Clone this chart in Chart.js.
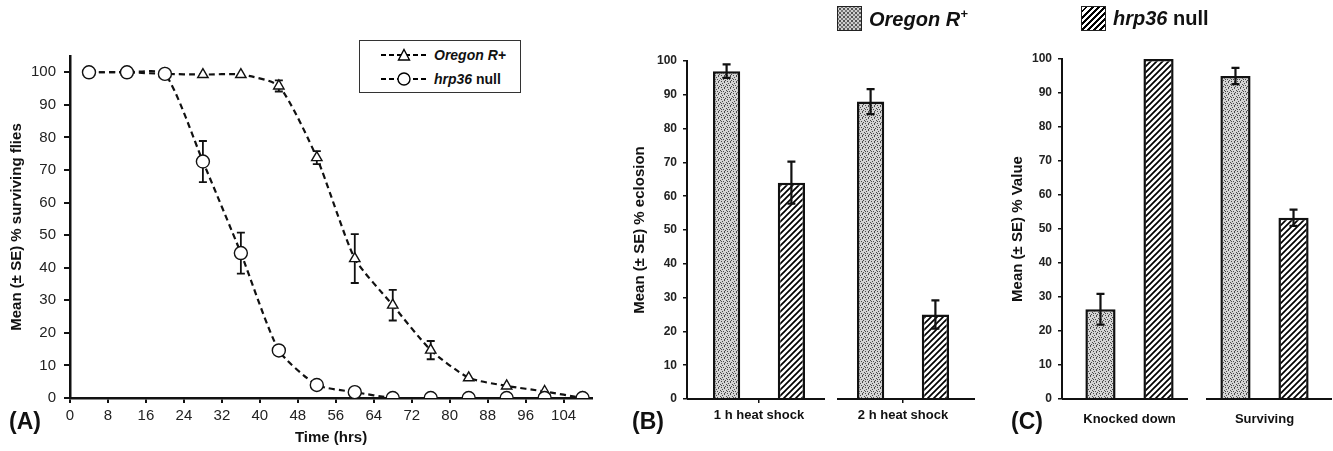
<!DOCTYPE html>
<html>
<head>
<meta charset="utf-8">
<script src="https://cdn.jsdelivr.net/npm/chart.js@4.4.0/dist/chart.umd.min.js"></script>
<style>
  body { margin: 0; width: 1333px; height: 451px; background: #fff; position: relative; overflow: hidden;
         font-family: "Liberation Sans", Arial, sans-serif; color: #111; }
  canvas { position: absolute; top: 0; }
  #chartA { left: 0; }
  #chartB { left: 600px; }
  #chartC { left: 990px; }
  .panel { position: absolute; font-weight: bold; font-size: 23px; z-index: 2; }
  #legendA { position: absolute; left: 359px; top: 40px; width: 160px; height: 51px; border: 1.5px solid #333;
             background: #fff; z-index: 2; font-weight: bold; font-size: 14px; }
  #legendA .row { position: absolute; left: 20px; height: 16px; display: flex; align-items: center; }
  #legendA svg { margin-right: 6px; }
  .lgBar { position: absolute; top: 6px; display: flex; align-items: center; font-weight: bold; font-size: 20px; z-index: 2; }
  .swatch { width: 23px; height: 23px; border: 1.5px solid #222; margin-right: 7px; }
  .stip { background-color: #cfcfcf;
          background-image: radial-gradient(#555 0.8px, transparent 1.1px), radial-gradient(#777 0.8px, transparent 1.1px);
          background-size: 4px 4px, 4px 4px; background-position: 0 0, 2px 2px; }
  .hatch { background: repeating-linear-gradient(-45deg, #fff 0 2.5px, #000 2.5px 4.3px); }
  sup { font-size: 13px; }
</style>
</head>
<body>
<canvas id="chartA" width="600" height="451"></canvas>
<canvas id="chartB" width="390" height="451"></canvas>
<canvas id="chartC" width="343" height="451"></canvas>

<div id="legendA">
  <div class="row" style="top:6px">
    <svg width="48" height="14"><line x1="1" y1="7" x2="47" y2="7" stroke="#000" stroke-width="2" stroke-dasharray="5,3"/>
      <polygon points="24,1.5 29.5,12 18.5,12" fill="#fff" stroke="#000" stroke-width="1.4"/></svg>
    <span><i>Oregon R+</i></span>
  </div>
  <div class="row" style="top:30px">
    <svg width="48" height="14"><line x1="1" y1="7" x2="47" y2="7" stroke="#000" stroke-width="2" stroke-dasharray="5,3"/>
      <circle cx="24" cy="7" r="6" fill="#fff" stroke="#000" stroke-width="1.4"/></svg>
    <span><i>hrp36</i> null</span>
  </div>
</div>

<div class="lgBar" style="left:837px"><div class="swatch stip"></div><i>Oregon R<sup>+</sup></i></div>
<div class="lgBar" style="left:1081px"><div class="swatch hatch"></div><span><i>hrp36</i> null</span></div>

<div class="panel" style="left:9px; top:408px">(A)</div>
<div class="panel" style="left:632px; top:408px">(B)</div>
<div class="panel" style="left:1011px; top:408px">(C)</div>

<script>
// panel A: survival over time
const hrsTime = [4, 12, 20, 28, 36, 44, 52, 60, 68, 76, 84, 92, 100, 108];
const oregonSurvival = [100, 100, 99.5, 99.3, 99.3, 95.8, 73.8, 42.8, 28.5, 14.7, 6.2, 3.7, 2, 0];
const oregonSurvivalErr = [0, 0, 0, 0, 0, 1.7, 2, 7.5, 4.7, 2.8, 0, 0, 0, 0];
const hrpSurvival = [100, 100, 99.5, 72.6, 44.5, 14.6, 4, 1.8, 0, 0, 0, 0, 0, 0];
const hrpSurvivalErr = [0, 0, 0, 6.3, 6.3, 0, 0, 0, 0, 0, 0, 0, 0, 0];
const timeTicks = [0, 8, 16, 24, 32, 40, 48, 56, 64, 72, 80, 88, 96, 104];
const survivalTicks = [0, 10, 20, 30, 40, 50, 60, 70, 80, 90, 100];

// panel B: eclosion after heat shock
const heatShockLabels = ['1 h heat shock', '2 h heat shock'];
const eclosionOregon = [97, 88];
const eclosionOregonErr = [2, 3.7];
const eclosionHrp = [64, 25];
const eclosionHrpErr = [6.2, 4.2];

// panel C: knockdown / survival
const phenotypeLabels = ['Knocked down', 'Surviving'];
const valueOregon = [26.4, 95];
const valueOregonErr = [4.5, 2.4];
const valueHrp = [100, 53.3];
const valueHrpErr = [0, 2.4];

const FONT = '"Liberation Sans", Arial, sans-serif';

// fill patterns
function makeStipple() {
  const c = document.createElement('canvas');
  c.width = 6; c.height = 6;
  const g = c.getContext('2d');
  g.fillStyle = '#d4d4d4';
  g.fillRect(0, 0, 6, 6);
  g.fillStyle = '#4a4a4a';
  [[0, 0], [3, 1], [1, 3], [4, 4], [2, 5], [5, 2], [1, 1], [4, 3]].forEach(p => g.fillRect(p[0], p[1], 1, 1));
  return g.createPattern(c, 'repeat');
}
function makeHatch() {
  const s = 6;
  const c = document.createElement('canvas');
  c.width = s; c.height = s;
  const g = c.getContext('2d');
  g.fillStyle = '#fff';
  g.fillRect(0, 0, s, s);
  g.strokeStyle = '#000';
  g.lineWidth = 1.7;
  g.beginPath();
  g.moveTo(0, s); g.lineTo(s, 0);
  g.moveTo(-1, 1); g.lineTo(1, -1);
  g.moveTo(s - 1, s + 1); g.lineTo(s + 1, s - 1);
  g.stroke();
  return g.createPattern(c, 'repeat');
}
const stipple = makeStipple();
const hatch = makeHatch();

// error bars drawn through the chart's own scales
function errorBarPlugin(hook, lw, cap) {
  return {
    id: 'errorBars',
    [hook](chart) {
      const ctx = chart.ctx;
      const yScale = chart.scales.y;
      ctx.save();
      ctx.strokeStyle = '#111';
      ctx.lineWidth = lw;
      chart.data.datasets.forEach((ds, i) => {
        if (!ds.errors) return;
        const meta = chart.getDatasetMeta(i);
        meta.data.forEach((el, j) => {
          const e = ds.errors[j];
          if (!e) return;
          const v = typeof ds.data[j] === 'object' ? ds.data[j].y : ds.data[j];
          const top = yScale.getPixelForValue(v + e);
          const bot = yScale.getPixelForValue(v - e);
          ctx.beginPath();
          ctx.moveTo(el.x, top); ctx.lineTo(el.x, bot);
          ctx.moveTo(el.x - cap, top); ctx.lineTo(el.x + cap, top);
          ctx.moveTo(el.x - cap, bot); ctx.lineTo(el.x + cap, bot);
          ctx.stroke();
        });
      });
      ctx.restore();
    }
  };
}

// x axis broken between categories
function brokenAxis(gap) {
  return {
    id: 'brokenAxis',
    afterDraw(chart) {
      const x = chart.scales.x;
      const y0 = chart.chartArea.bottom;
      const n = chart.data.labels.length;
      const w = (x.right - x.left) / n;
      const ctx = chart.ctx;
      ctx.save();
      ctx.strokeStyle = '#111';
      ctx.lineWidth = 2;
      for (let i = 0; i < n; i++) {
        const a = x.left + i * w + (i > 0 ? gap / 2 : 0);
        const b = x.left + (i + 1) * w - (i < n - 1 ? gap / 2 : 0);
        ctx.beginPath();
        ctx.moveTo(a, y0); ctx.lineTo(b, y0);
        ctx.stroke();
      }
      ctx.restore();
    }
  };
}

const toPoints = (xs, ys) => xs.map((x, i) => ({ x: x, y: ys[i] }));

new Chart(document.getElementById('chartA'), {
  type: 'line',
  data: {
    datasets: [
      {
        label: 'hrp36 null',
        data: toPoints(hrsTime, hrpSurvival),
        errors: hrpSurvivalErr,
        borderColor: '#111',
        borderWidth: 2.2,
        borderDash: [6, 4],
        pointStyle: 'circle',
        pointRadius: 6.5,
        pointBorderWidth: 1.4,
        pointBackgroundColor: '#fff',
        pointBorderColor: '#111',
        tension: 0.2,
        order: 0
      },
      {
        label: 'Oregon R+',
        data: toPoints(hrsTime, oregonSurvival),
        errors: oregonSurvivalErr,
        borderColor: '#111',
        borderWidth: 2.2,
        borderDash: [6, 4],
        pointStyle: 'triangle',
        pointRadius: 6,
        pointBorderWidth: 1.4,
        pointBackgroundColor: '#fff',
        pointBorderColor: '#111',
        tension: 0.2,
        order: 1
      }
    ]
  },
  options: {
    responsive: false,
    animation: false,
    layout: { padding: { left: 4, top: 56, right: 6, bottom: 0 } },
    plugins: { legend: { display: false }, tooltip: { enabled: false } },
    scales: {
      x: {
        type: 'linear', min: 0, max: 110,
        afterBuildTicks: s => { s.ticks = timeTicks.map(v => ({ value: v })); },
        afterFit: s => { s.height = 53; },
        border: { display: true, color: '#111', width: 2.5 },
        grid: { display: true, drawOnChartArea: false, tickLength: 5, tickColor: '#111', lineWidth: 2 },
        ticks: { color: '#222', padding: 4, maxRotation: 0, font: { family: FONT, size: 15 } },
        title: { display: true, text: 'Time (hrs)', color: '#111', font: { family: FONT, size: 15, weight: 'bold' } }
      },
      y: {
        min: 0, max: 105,
        afterBuildTicks: s => { s.ticks = survivalTicks.map(v => ({ value: v })); },
        afterFit: s => { s.width = 66; },
        border: { display: true, color: '#111', width: 2.5 },
        grid: { display: true, drawOnChartArea: false, tickLength: 6, tickColor: '#111', lineWidth: 2 },
        ticks: { color: '#222', padding: 8, font: { family: FONT, size: 15 } },
        title: { display: true, text: 'Mean (± SE) % surviving flies', color: '#111', font: { family: FONT, size: 15, weight: 'bold' } }
      }
    }
  },
  plugins: [errorBarPlugin('beforeDatasetsDraw', 1.8, 4)]
});

function barOptions(padLeft, yWidth, padTop, padRight, yTitle, tickMarks) {
  return {
    responsive: false,
    animation: false,
    layout: { padding: { left: padLeft, top: padTop, right: padRight, bottom: 0 } },
    plugins: { legend: { display: false }, tooltip: { enabled: false } },
    scales: {
      x: {
        afterFit: s => { s.height = 52; },
        border: { display: false },
        grid: { display: tickMarks, offset: false, drawOnChartArea: false, tickLength: 4, tickColor: '#111', lineWidth: 1.5 },
        ticks: { color: '#111', padding: tickMarks ? 5 : 9, font: { family: FONT, size: 13, weight: 'bold' } }
      },
      y: {
        min: 0, max: 100,
        afterFit: s => { s.width = yWidth; },
        border: { display: true, color: '#111', width: 2 },
        grid: { display: true, drawOnChartArea: false, tickLength: 4, tickColor: '#111', lineWidth: 1.5 },
        ticks: { stepSize: 10, color: '#222', padding: 6, font: { family: FONT, size: 12, weight: 'bold' } },
        title: { display: true, text: yTitle, color: '#111', font: { family: FONT, size: 15, weight: 'bold' } }
      }
    }
  };
}

new Chart(document.getElementById('chartB'), {
  type: 'bar',
  data: {
    labels: heatShockLabels,
    datasets: [
      { label: 'Oregon R+', data: eclosionOregon, errors: eclosionOregonErr, backgroundColor: stipple,
        borderColor: '#111', borderWidth: 2.5, categoryPercentage: 0.9, barPercentage: 0.42 },
      { label: 'hrp36 null', data: eclosionHrp, errors: eclosionHrpErr, backgroundColor: hatch,
        borderColor: '#111', borderWidth: 2.5, categoryPercentage: 0.9, barPercentage: 0.42 }
    ]
  },
  options: barOptions(27, 60, 61, 15, 'Mean (± SE) % eclosion', true),
  plugins: [errorBarPlugin('afterDatasetsDraw', 2.2, 4), brokenAxis(12)]
});

new Chart(document.getElementById('chartC'), {
  type: 'bar',
  data: {
    labels: phenotypeLabels,
    datasets: [
      { label: 'Oregon R+', data: valueOregon, errors: valueOregonErr, backgroundColor: stipple,
        borderColor: '#111', borderWidth: 2.5, categoryPercentage: 0.86, barPercentage: 0.52 },
      { label: 'hrp36 null', data: valueHrp, errors: valueHrpErr, backgroundColor: hatch,
        borderColor: '#111', borderWidth: 2.5, categoryPercentage: 0.86, barPercentage: 0.52 }
    ]
  },
  options: barOptions(15, 57, 59, 1, 'Mean (± SE) % Value', false),
  plugins: [errorBarPlugin('afterDatasetsDraw', 2.2, 4), brokenAxis(18)]
});
</script>
</body>
</html>
